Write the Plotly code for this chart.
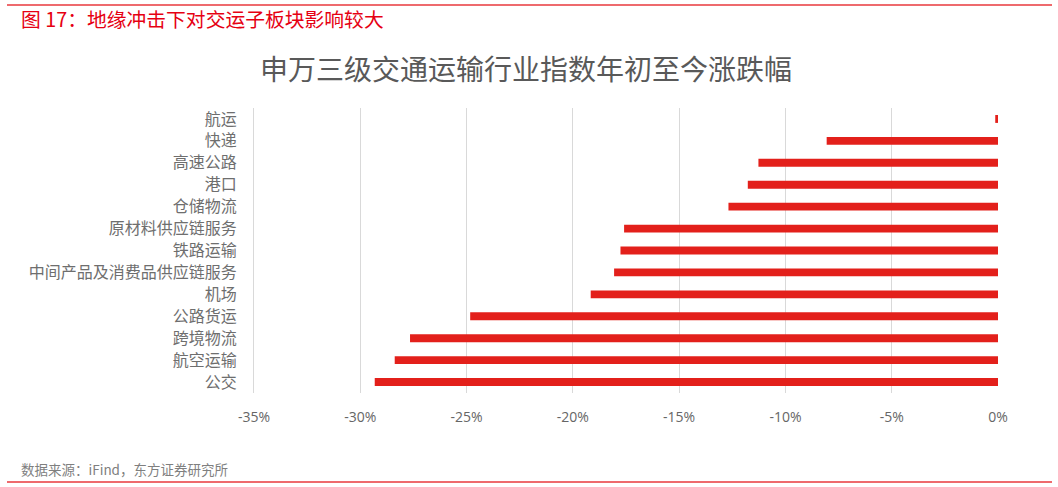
import plotly.graph_objects as go

categories = ["航运", "快递", "高速公路", "港口", "仓储物流", "原材料供应链服务", "铁路运输",
              "中间产品及消费品供应链服务", "机场", "公路货运", "跨境物流", "航空运输", "公交"]
values = [-0.13, -8.06, -11.27, -11.77, -12.68, -17.59, -17.76, -18.06, -19.16, -24.83, -27.66, -28.38, -29.32]
tick_vals = [-35, -30, -25, -20, -15, -10, -5, 0]
tick_text = ["-35%", "-30%", "-25%", "-20%", "-15%", "-10%", "-5%", "0%"]

W, H = 1058, 487
L, R, T, B = 254, 60, 108, 94
pw, ph = W - L - R, H - T - B

def px_x(x):
    return (x - L) / pw

def px_y(y):
    return (H - B - y) / ph

font_cjk = "Noto Sans CJK SC"
gray = "#595959"
red = "#E3201B"

fig = go.Figure(go.Bar(
    x=values, y=categories, orientation="h",
    marker=dict(color=red, line=dict(width=0)),
    width=0.36,
))

fig.update_layout(
    width=W, height=H,
    margin=dict(l=L, r=R, t=T, b=B),
    paper_bgcolor="white", plot_bgcolor="white",
    showlegend=False,
    font=dict(family=font_cjk, color=gray, size=13),
    xaxis=dict(range=[-35, 0], tickvals=tick_vals, ticktext=tick_text,
               showgrid=True, gridcolor="#D9D9D9", gridwidth=1, zeroline=False,
               showline=False, ticks="", ticklabelstandoff=14,
               tickfont=dict(size=14, color="#666666", family="Open Sans")),
    yaxis=dict(autorange="reversed", showgrid=False, zeroline=False,
               showline=True, linecolor="#D9D9D9", linewidth=1,
               ticks="", ticklabelstandoff=13,
               tickfont=dict(size=16, color="#6E6E6E")),
    shapes=[
        dict(type="line", xref="paper", yref="paper", x0=px_x(7), x1=px_x(1052),
             y0=px_y(5), y1=px_y(5), line=dict(color="#E8383D", width=1.5)),
        dict(type="line", xref="paper", yref="paper", x0=px_x(7), x1=px_x(1052),
             y0=px_y(482), y1=px_y(482), line=dict(color="#E8383D", width=1.5)),
    ],
    annotations=[
        dict(text="申万三级交通运输行业指数年初至今涨跌幅", xref="paper", yref="paper",
             x=px_x(526), y=px_y(68), xanchor="center", yanchor="middle", showarrow=False,
             font=dict(size=28, color=gray, family=font_cjk)),
        dict(text="图 17：地缘冲击下对交运子板块影响较大", xref="paper", yref="paper",
             x=px_x(19), y=px_y(19), xanchor="left", yanchor="middle", showarrow=False,
             font=dict(size=19.8, color="#E60012", family=font_cjk)),
        dict(text="数据来源：iFind，东方证券研究所", xref="paper", yref="paper",
             x=px_x(19), y=px_y(469), xanchor="left", yanchor="middle", showarrow=False,
             font=dict(size=13.5, color="#7F7F7F", family=font_cjk)),
    ],
)

fig.write_html("out.html", config={"displayModeBar": False},
               post_script="document.body.style.margin='0';document.body.style.overflow='hidden';")
